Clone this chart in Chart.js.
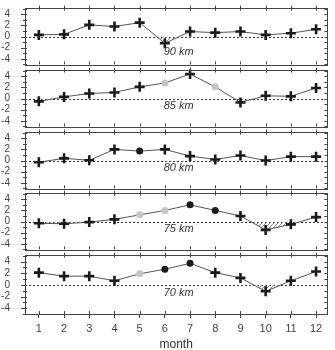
<!DOCTYPE html>
<html>
<head>
<meta charset="utf-8">
<script src="https://cdn.jsdelivr.net/npm/chart.js@4.4.1/dist/chart.umd.min.js"></script>
<style>
  body { margin: 0; background: #fff; }
  #wrap { position: relative; width: 335px; height: 350px; }
  #wrap canvas { position: absolute; left: 0; }
</style>
</head>
<body>
<div id="wrap"></div>
<script>
// months on the x axis
var months = [1, 2, 3, 4, 5, 6, 7, 8, 9, 10, 11, 12];
var yTicks = [-4, -2, 0, 2, 4];

// panel names, top to bottom
var heights = ['90 km', '85 km', '80 km', '75 km', '70 km'];

// anomaly values per panel
var v90 = [0.3, 0.4, 2.1, 1.8, 2.5, -1.2, 0.9, 0.7, 0.9, 0.3, 0.6, 1.3];
var v85 = [-0.5, 0.3, 0.9, 1.1, 2.1, 2.8, 4.4, 2.1, -0.7, 0.5, 0.4, 1.9];
var v80 = [-0.3, 0.4, 0.05, 2.0, 1.7, 2.0, 0.8, 0.2, 0.9, 0.0, 0.7, 0.7];
var v75 = [-0.3, -0.4, -0.1, 0.4, 1.2, 2.0, 3.0, 2.0, 1.0, -1.5, -0.5, 0.8];
var v70 = [2.1, 1.5, 1.5, 0.7, 1.9, 2.7, 3.7, 2.1, 1.2, -1.1, 0.7, 2.3];

// marker kind per point: c = cross, b = black dot, g = grey dot
var k90 = ['c','c','c','c','c','c','c','c','c','c','c','c'];
var k85 = ['c','c','c','c','c','g','c','g','c','c','c','c'];
var k80 = ['c','c','c','c','b','c','c','c','c','c','c','c'];
var k75 = ['c','c','c','c','g','g','b','b','c','c','c','c'];
var k70 = ['c','c','c','c','g','b','b','c','c','c','c','c'];

// where the height label sits (y value)
var labelY = [-2.7, -1.4, -1.4, -1.4, -1.4];

var values = [v90, v85, v80, v75, v70];
var kinds = [k90, k85, k80, k75, k70];

var ink = '#333';
var tickInk = '#444';

// hatch pattern for the negative part
function makeHatch() {
    var c = document.createElement('canvas');
    c.width = 4; c.height = 4;
    var g = c.getContext('2d');
    g.strokeStyle = '#888';
    g.lineWidth = 1;
    g.beginPath();
    g.moveTo(0, 4); g.lineTo(4, 0);
    g.moveTo(-1, 1); g.lineTo(1, -1);
    g.moveTo(3, 5); g.lineTo(5, 3);
    g.stroke();
    return g.createPattern(c, 'repeat');
}
var hatch = makeHatch();

// frame, ticks, zero line and label
var framePlugin = {
    id: 'frame',
    beforeDatasetsDraw: function (chart) {
        var ctx = chart.ctx, a = chart.chartArea;
        var y = chart.scales.y;
        ctx.save();
        ctx.strokeStyle = ink;
        ctx.lineWidth = 1;
        ctx.setLineDash([2, 2]);
        var y0 = Math.round(y.getPixelForValue(0)) + 0.5;
        ctx.beginPath();
        ctx.moveTo(a.left, y0);
        ctx.lineTo(a.right, y0);
        ctx.stroke();
        ctx.restore();
    },
    afterDraw: function (chart) {
        var ctx = chart.ctx, a = chart.chartArea;
        var x = chart.scales.x, y = chart.scales.y;
        var opts = chart.options.plugins.frame;
        ctx.save();
        ctx.strokeStyle = tickInk;
        ctx.lineWidth = 1;
        ctx.strokeRect(Math.round(a.left) + 0.5, Math.round(a.top) + 0.5,
            Math.round(a.right - a.left), Math.round(a.bottom - a.top));
        ctx.beginPath();
        months.forEach(function (m) {
            var px = Math.round(x.getPixelForValue(m)) + 0.5;
            ctx.moveTo(px, a.top - 2); ctx.lineTo(px, a.top + 3);
            ctx.moveTo(px, a.bottom - 3); ctx.lineTo(px, a.bottom);
        });
        for (var v = -5; v <= 5; v++) {
            var py = Math.round(y.getPixelForValue(v)) + 0.5;
            var len = (v % 2 === 0) ? 4 : 2;
            ctx.moveTo(a.left - len, py); ctx.lineTo(a.left + 2, py);
            ctx.moveTo(a.right - 3, py); ctx.lineTo(a.right, py);
        }
        ctx.stroke();
        ctx.fillStyle = ink;
        ctx.font = 'italic 11px "Liberation Sans", Arial, sans-serif';
        ctx.textAlign = 'center';
        ctx.textBaseline = 'middle';
        ctx.fillText(opts.label, x.getPixelForValue(6.55), y.getPixelForValue(opts.labelY));
        ctx.restore();
    }
};

var wrap = document.getElementById('wrap');

heights.forEach(function (name, i) {
    var last = i === heights.length - 1;
    var top = Math.round(5 + i * 61.8);
    var canvas = document.createElement('canvas');
    canvas.width = 335;
    canvas.height = last ? 350 - top + 5 : 72;
    canvas.style.top = (top - 5) + 'px';
    wrap.appendChild(canvas);

    var kind = kinds[i];
    new Chart(canvas, {
        type: 'line',
        data: {
            datasets: [{
                data: months.map(function (m, j) { return {x: m, y: values[i][j]}; }),
                borderColor: '#555',
                borderWidth: 1,
                tension: 0,
                fill: {target: {value: 0}, above: 'rgba(0,0,0,0)', below: hatch},
                pointStyle: kind.map(function (k) { return k === 'c' ? 'cross' : 'circle'; }),
                pointRadius: kind.map(function (k) { return k === 'c' ? 5 : 3.5; }),
                pointBorderWidth: kind.map(function (k) { return k === 'c' ? 2.6 : 0; }),
                pointBorderColor: kind.map(function (k) { return k === 'g' ? '#c4c4c4' : '#1a1a1a'; }),
                pointBackgroundColor: kind.map(function (k) { return k === 'g' ? '#c4c4c4' : '#1a1a1a'; })
            }]
        },
        options: {
            responsive: false,
            animation: false,
            layout: {padding: {top: 5, bottom: last ? 0 : 5, right: 2, left: 0}},
            plugins: {
                legend: {display: false},
                tooltip: {enabled: false},
                frame: {label: name, labelY: labelY[i]}
            },
            scales: {
                x: {
                    type: 'linear',
                    min: 0.45,
                    max: 12.45,
                    display: last,
                    afterBuildTicks: function (s) {
                        s.ticks = months.map(function (m) { return {value: m}; });
                    },
                    afterFit: function (s) { s.height = last ? 36 : 0; },
                    grid: {drawOnChartArea: false, drawTicks: true, tickLength: 4, color: tickInk},
                    border: {display: false},
                    ticks: {
                        color: tickInk,
                        padding: 4,
                        maxRotation: 0,
                        autoSkip: false,
                        font: {family: '"Liberation Sans", Arial, sans-serif', size: 11}
                    },
                    title: {
                        display: true,
                        text: 'month',
                        color: ink,
                        padding: {top: 0, bottom: -2},
                        font: {family: '"Liberation Sans", Arial, sans-serif', size: 12}
                    }
                },
                y: {
                    min: -5,
                    max: 5.2,
                    afterBuildTicks: function (s) {
                        s.ticks = yTicks.map(function (v) { return {value: v}; });
                    },
                    afterFit: function (s) { s.width = 25; s.paddingTop = 0; s.paddingBottom = 0; },
                    grid: {display: false},
                    border: {display: false},
                    ticks: {
                        color: tickInk,
                        padding: 7,
                        autoSkip: false,
                        font: {family: '"Liberation Sans", Arial, sans-serif', size: 10}
                    }
                }
            }
        },
        plugins: [framePlugin]
    });
});
</script>
</body>
</html>
